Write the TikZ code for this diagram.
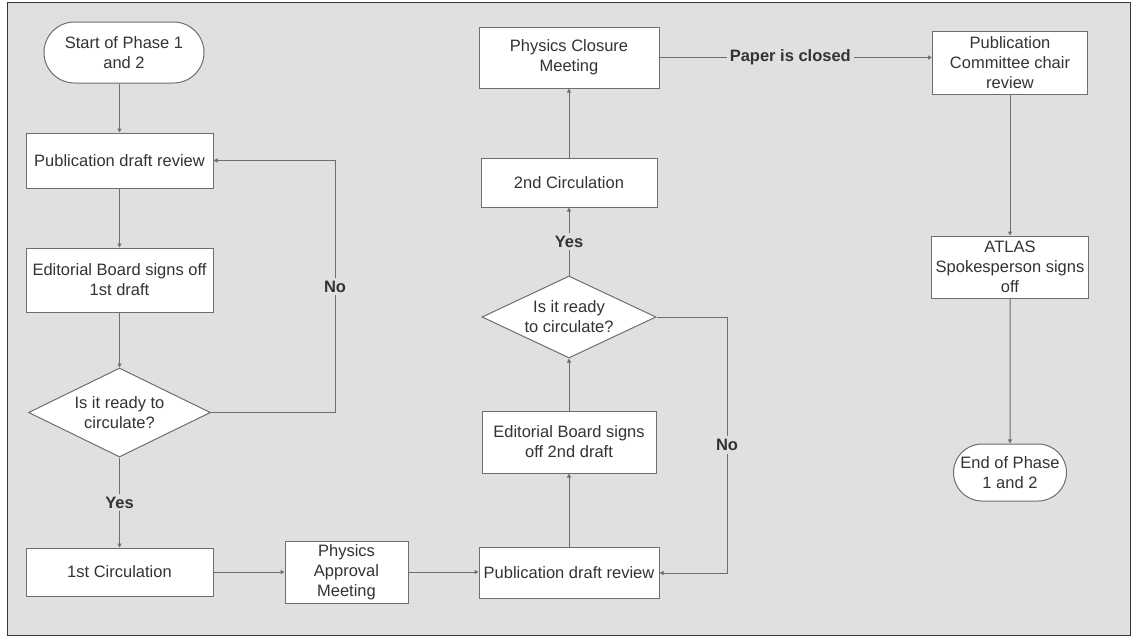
\documentclass[tikz,border=0pt]{standalone}
\usepackage{fontspec}
\setmainfont{Liberation Sans}
\usetikzlibrary{arrows.meta,shapes.geometric,shapes.misc}
\definecolor{bggray}{HTML}{E0E0E0}
\definecolor{framegray}{HTML}{383838}
\definecolor{linegray}{HTML}{6E6E6E}
\definecolor{textgray}{HTML}{333333}

\begin{document}
\begin{tikzpicture}[x=1pt,y=-1pt,
  font=\fontsize{16.5}{20}\selectfont,
  box/.style={draw=linegray, fill=white, line width=1pt, text=textgray, align=center, inner sep=0pt},
  terminal/.style={box, rounded rectangle},
  decision/.style={box, diamond, aspect=2},
  flow/.style={draw=linegray, line width=1pt, -{Triangle[length=4pt,width=4pt]}},
  answer/.style={fill=bggray, text=textgray, font=\fontsize{16.5}{20}\selectfont\bfseries, inner sep=3pt}]

% Canvas
\useasboundingbox (0,0) rectangle (1132,637);
\draw[fill=bggray, draw=framegray, line width=1pt] (7,2) rectangle (1130,635);

% Left column
\node[terminal, minimum width=160, minimum height=61] (start) at (124,52.5) {Start of Phase 1\\and 2};
\node[box, minimum width=187, minimum height=55] (pdr1) at (119.5,160.5) {Publication draft review};
\node[box, minimum width=187, minimum height=64] (eb1) at (119.5,280) {Editorial Board signs off\\1st draft};
\node[decision, minimum width=182, minimum height=89] (dia1) at (119.5,412.5) {Is it ready to\\circulate?};
\node[box, minimum width=187, minimum height=48] (circ1) at (119.5,572) {1st Circulation};

% Bottom middle
\node[box, minimum width=123, minimum height=62] (pam) at (346.5,572) {Physics\\Approval\\Meeting};

% Middle column
\node[box, minimum width=180, minimum height=51] (pdr2) at (569,573) {Publication draft review};
\node[box, minimum width=174, minimum height=62] (eb2) at (569,442) {Editorial Board signs\\off 2nd draft};
\node[decision, minimum width=174, minimum height=82] (dia2) at (569,317) {Is it ready\\to circulate?};
\node[box, minimum width=176, minimum height=49] (circ2) at (569,182.5) {2nd Circulation};
\node[box, minimum width=180, minimum height=61] (pcm) at (569,57.5) {Physics Closure\\Meeting};

% Right column
\node[box, minimum width=155, minimum height=63] (pcr) at (1010,62.5) {Publication\\Committee chair\\review};
\node[box, minimum width=157, minimum height=62] (atlas) at (1010,267) {ATLAS\\Spokesperson signs\\off};
\node[terminal, minimum width=113, minimum height=57] (end) at (1010,472.5) {End of Phase\\1 and 2};

% Bends of the "No" loops
\coordinate (nobend1) at (335,412.5);
\coordinate (nobend2) at (727,317);

% Phase 1
\draw[flow] (start.south -| pdr1.north) -- (pdr1.north);
\draw[flow] (pdr1) -- (eb1);
\draw[flow] (eb1) -- (dia1);
\draw[flow] (dia1) -- node[answer]{Yes} (circ1);
\draw[flow] (dia1.east) -- (nobend1) |- node[answer, pos=0.25]{No} (pdr1.east);
\draw[flow] (circ1) -- (pam);
\draw[flow] (pam.east) -- (pam.east -| pdr2.west);

% Phase 2
\draw[flow] (pdr2) -- (eb2);
\draw[flow] (eb2) -- (dia2);
\draw[flow] (dia2) -- node[answer]{Yes} (circ2);
\draw[flow] (dia2.east) -- (nobend2) |- node[answer, pos=0.25]{No} (pdr2.east);
\draw[flow] (circ2) -- (pcm);
\draw[flow] (pcm.east) -- node[answer, pos=0.48]{Paper is closed} (pcm.east -| pcr.west);
\draw[flow] (pcr) -- (atlas);
\draw[flow] (atlas) -- (end);

\end{tikzpicture}
\end{document}
